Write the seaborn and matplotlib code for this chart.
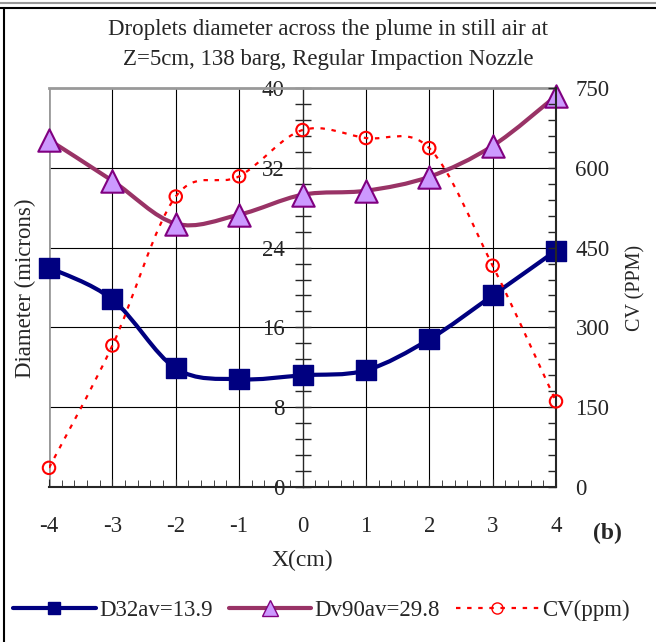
import numpy as np
import seaborn as sns
import matplotlib.pyplot as plt
from matplotlib.path import Path
from matplotlib.patches import PathPatch
from matplotlib.lines import Line2D
from matplotlib.ticker import MultipleLocator

# datos
x_cm = [-4, -3, -2, -1, 0, 1, 2, 3, 4]
d32 = [22.0, 18.8, 11.9, 10.8, 11.2, 11.7, 14.8, 19.2, 23.7]
dv90 = [34.8, 30.7, 26.4, 27.3, 29.3, 29.7, 31.1, 34.2, 39.2]
cv_ppm = [36, 266, 546, 584, 671, 656, 637, 416, 161]

sns.set_style("white")
plt.rcParams["font.family"] = ["Liberation Serif", "DejaVu Serif"]
plt.rcParams["font.size"] = 16.5


def smooth_path(xs, ys):
    # curva suavizada tipo Excel (Catmull-Rom -> Bezier)
    pts = np.column_stack([xs, ys]).astype(float)
    p = np.vstack([pts[0], pts, pts[-1]])
    verts = [pts[0]]
    codes = [Path.MOVETO]
    for i in range(1, len(p) - 2):
        c1 = p[i] + (p[i + 1] - p[i - 1]) / 6
        c2 = p[i + 1] - (p[i + 2] - p[i]) / 6
        verts += [c1, c2, p[i + 1]]
        codes += [Path.CURVE4] * 3
    return Path(verts, codes)


fig = plt.figure(figsize=(6.56, 6.42), dpi=100)
ax = fig.add_axes([49 / 656, 1 - 487 / 642, (556 - 49) / 656, (487 - 88) / 642])
ax2 = ax.twinx()

ax.set_xlim(-4, 4)
ax.set_ylim(0, 40)
ax2.set_ylim(0, 750)

# grilla
for xv in [-3, -2, -1, 1, 2, 3]:
    ax.axvline(xv, color="black", lw=0.8, zorder=0)
for yv in [8, 16, 24, 32]:
    ax.axhline(yv, color="black", lw=0.8, zorder=0)
ax.axvline(-4, color="#999999", lw=2, zorder=0)

# curvas
ax.add_patch(PathPatch(smooth_path(x_cm, dv90), fill=False, ec="#993366", lw=3, zorder=2))
ax.add_patch(PathPatch(smooth_path(x_cm, d32), fill=False, ec="#000080", lw=3, zorder=2))
ax2.add_patch(PathPatch(smooth_path(x_cm, cv_ppm), fill=False, ec="red", lw=1.6,
                        linestyle=(0, (2, 3)), zorder=2))

sns.scatterplot(x=x_cm, y=dv90, marker="^", s=260, color="#CC99FF", edgecolor="#800080",
                linewidth=1.5, ax=ax, zorder=3, clip_on=False)
sns.scatterplot(x=x_cm, y=d32, marker="s", s=190, color="#000080", edgecolor="#000080",
                linewidth=1, ax=ax, zorder=3, clip_on=False)
sns.scatterplot(x=x_cm, y=cv_ppm, marker="o", s=80, fc="none", ec="red",
                linewidth=1.5, ax=ax2, zorder=3, clip_on=False)

# ejes
ax.spines["left"].set_position(("data", 0))
ax.spines["left"].set_linewidth(1)
ax.spines["top"].set_color("#999999")
ax.spines["top"].set_linewidth(2)
ax.spines["right"].set_visible(False)
ax.spines["bottom"].set_linewidth(1.5)
ax2.spines["left"].set_visible(False)
ax2.spines["top"].set_visible(False)
ax2.spines["bottom"].set_visible(False)
ax2.spines["right"].set_linewidth(1.5)

ax.yaxis.set_major_locator(MultipleLocator(8))
ax.yaxis.set_minor_locator(MultipleLocator(1.6))
ax.tick_params(axis="y", which="both", direction="inout", length=12, width=1, pad=7,
               labelsize=16.5)
ax.xaxis.set_major_locator(MultipleLocator(1))
ax.xaxis.set_minor_locator(MultipleLocator(0.2))
ax.tick_params(axis="x", which="major", direction="in", length=6, pad=21, bottom=True,
               labelsize=16.5)
ax.tick_params(axis="x", which="minor", direction="in", length=5, bottom=True)
ax.set_xticks(x_cm)
ax.set_xticklabels([str(v) for v in x_cm])

ax2.yaxis.set_major_locator(MultipleLocator(150))
ax2.yaxis.set_minor_locator(MultipleLocator(30))
ax2.tick_params(axis="y", which="both", direction="in", length=6, width=1, pad=14, right=True,
                labelsize=16.5)

ax.set_xlabel("X(cm)", fontsize=17, labelpad=9)
ax2.set_ylabel("CV (PPM)", fontsize=14.5, labelpad=12)
fig.text(25 / 656, 1 - 288 / 642, "Diameter (microns)", rotation=90, fontsize=16.5,
         ha="center", va="center")

fig.text(0.5, 1 - 29 / 642, "Droplets diameter across the plume in still air at",
         fontsize=16.5, ha="center", va="center")
fig.text(0.5, 1 - 60 / 642, "Z=5cm, 138 barg, Regular Impaction Nozzle",
         fontsize=16.5, ha="center", va="center")
fig.text(607 / 656, 1 - 533 / 642, "(b)", fontsize=17, fontweight="bold",
         ha="center", va="center")

handles = [
    Line2D([], [], color="#000080", lw=3, marker="s", ms=9, mfc="#000080", mec="#000080"),
    Line2D([], [], color="#993366", lw=3, marker="^", ms=11, mfc="#CC99FF", mec="#800080"),
    Line2D([], [], color="red", lw=1.6, ls=(0, (2, 3)), marker="o", ms=8, mfc="none", mec="red"),
]
labels = ["D32av=13.9", "Dv90av=29.8", "CV(ppm)"]
fig.legend(handles, labels, loc="center", bbox_to_anchor=(0.49, 1 - 610 / 642), ncol=3,
           frameon=False, handlelength=3.6, columnspacing=0.7, handletextpad=0.15,
           fontsize=16.5, borderpad=0, borderaxespad=0)

# marco de la figura
fig.add_artist(Line2D([0, 1], [1 - 3 / 642, 1 - 3 / 642], transform=fig.transFigure,
                      color="#999999", lw=1.5))
fig.add_artist(Line2D([0, 1], [1 - 8 / 642, 1 - 8 / 642], transform=fig.transFigure,
                      color="black", lw=1.5))
fig.add_artist(Line2D([4 / 656, 4 / 656], [0, 1 - 8 / 642], transform=fig.transFigure,
                      color="black", lw=1.5))

fig.savefig("out.png", dpi=100)
